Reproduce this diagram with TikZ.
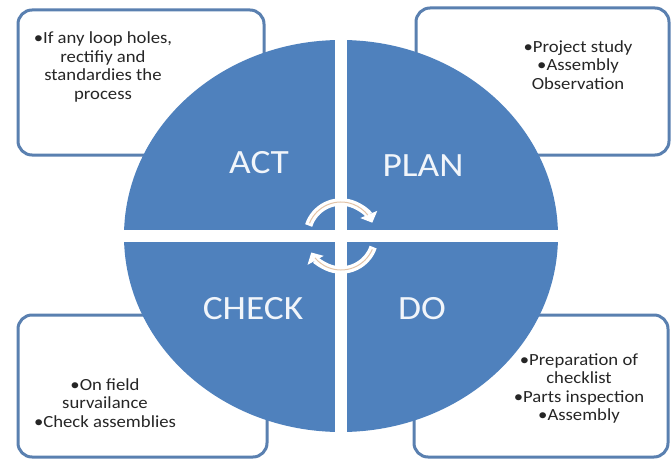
\documentclass[tikz,border=0pt]{standalone}
\usepackage{fontspec}
\setmainfont{Carlito}[FakeStretch=1.1]
\usetikzlibrary{arrows.meta, positioning}
\definecolor{wheelblue}{HTML}{4F81BD}
\definecolor{boxline}{HTML}{5A80B0}
\definecolor{arcline}{HTML}{E3C4A8}
\tikzset{>=stealth}

\begin{document}
\begin{tikzpicture}[x=1pt, y=1pt, thick,
    notebox/.style={draw=boxline, line width=3pt, rounded corners=14pt, fill=white, inner sep=0pt},
    phase/.style={text=white!92!wheelblue, font=\fontsize{34}{40}\selectfont},
    notes/.style={align=center, text=black!85, font=\fontsize{17}{18.5}\selectfont, inner sep=0pt},
    turn/.style={white, line width=7.5pt, -{Triangle[length=9pt,width=18pt]}},
    turnline/.style={arcline, line width=1pt}]

      \useasboundingbox (0,0) rectangle (672,459);

      % boxes behind the wheel
      \node[notebox, minimum width=246pt, minimum height=145pt] (actbox) at (141,376.5) {};
      \node[notebox, minimum width=253pt, minimum height=147pt] (planbox) at (542.5,377.5) {};
      \node[notebox, minimum width=249pt, minimum height=142pt] (checkbox) at (142.5,73) {};
      \node[notebox, minimum width=254pt, minimum height=142pt] (dobox) at (541,73) {};

      % wheel
      \coordinate (hub) at (341,223);
      \fill[wheelblue] (hub) ellipse [x radius=217pt, y radius=196pt];
      \draw[white, line width=12pt] (341,20) -- (341,426);
      \draw[white, line width=12pt] (117,223) -- (565,223);

      \draw[turn] ([shift={(162:34)}]hub) arc[start angle=162, end angle=23, radius=34pt];
      \draw[turn] ([shift={(-19:34)}]hub) arc[start angle=-19, end angle=-151, radius=34pt];
      \draw[turnline] ([shift={(158:34)}]hub) arc[start angle=158, end angle=38, radius=34pt];
      \draw[turnline] ([shift={(-23:34)}]hub) arc[start angle=-23, end angle=-140, radius=34pt];

      \node[phase] (act) at (259,296) {ACT};
      \node[phase] (plan) at (423,293) {PLAN};
      \node[phase] (check) at (253,150) {CHECK};
      \node[phase] (do) at (422,150) {DO};

      \node[notes] (actnotes) at (103,392) {•If any loop holes,\\rectifiy and\\standardies the\\process};
      \node[notes] (plannotes) at (578,394) {•Project study\\•Assembly\\Observation};
      \node[notes] (checknotes) at (105,56) {•On field\\survailance\\•Check assemblies};
      \node[notes] (donotes) at (579,70.5) {•Preparation of\\checklist\\•Parts inspection\\•Assembly};
\end{tikzpicture}
\end{document}
